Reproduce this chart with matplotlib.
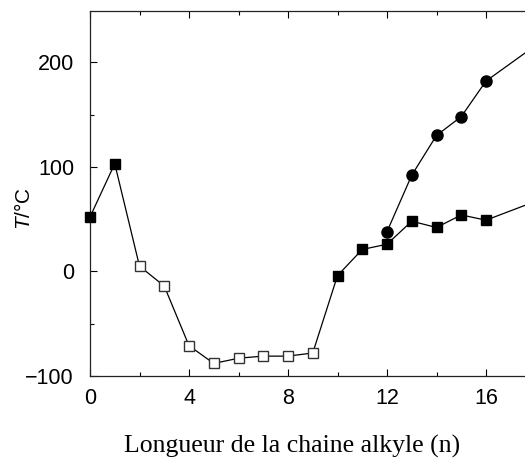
import numpy as np
import matplotlib
matplotlib.use("Agg")
import matplotlib.pyplot as plt
from matplotlib.ticker import MultipleLocator

plt.rcParams['font.family'] = 'Liberation Sans'
plt.rcParams['mathtext.fontset'] = 'custom'
plt.rcParams['mathtext.it'] = 'Liberation Sans:italic'
plt.rcParams['mathtext.rm'] = 'Liberation Sans'

# Square series (melting point vs chain length)
n_sq = [0, 1, 2, 3, 4, 5, 6, 7, 8, 9, 10, 11, 12, 13, 14, 15, 16, 18]
t_sq = [52, 103, 5, -14, -71, -88, -83, -81, -81, -78, -4, 21, 26, 48, 42, 54, 49, 67]
open_mask = [False, False, True, True, True, True, True, True, True, True,
             False, False, False, False, False, False, False, False]

# Circle series
n_ci = [12, 13, 14, 15, 16, 18]
t_ci = [38, 92, 130, 148, 182, 216]

fig = plt.figure(figsize=(5.25, 4.61), dpi=100)
W, H = 525, 461
x0, x1 = 90, 535.5
y0, y1 = 376, 11
ax = fig.add_axes([x0 / W, 1 - y0 / H, (x1 - x0) / W, (y0 - y1) / H])

ax.plot(n_sq, t_sq, color='black', lw=0.9, zorder=2)
ax.plot(n_ci, t_ci, color='black', lw=0.9, zorder=2)

n_sq = np.array(n_sq)
t_sq = np.array(t_sq)
open_mask = np.array(open_mask)
ax.plot(n_sq[~open_mask], t_sq[~open_mask], 's', ms=7.2, color='black',
        zorder=3, clip_on=False)
ax.plot(n_sq[open_mask], t_sq[open_mask], 's', ms=7.2, mfc='white', mec='#333333',
        mew=1.0, zorder=3)
ax.plot(n_ci, t_ci, 'o', ms=8, color='black', zorder=3)

ax.set_xlim(0, 18)
ax.set_ylim(-100, 249)
ax.xaxis.set_major_locator(MultipleLocator(4))
ax.xaxis.set_minor_locator(MultipleLocator(2))
ax.yaxis.set_major_locator(MultipleLocator(100))
ax.yaxis.set_minor_locator(MultipleLocator(50))
ax.tick_params(which='both', direction='in', top=True, right=True, labelsize=15.5)
ax.tick_params(axis='x', pad=9)
ax.tick_params(axis='y', pad=11.5)
ax.tick_params(which='major', length=5, width=0.8)
ax.tick_params(which='minor', length=3, width=0.8)
ax.set_xticks([0, 4, 8, 12, 16])
ax.set_yticks([-100, 0, 100, 200])
ax.set_yticklabels(['\u2212100', '0', '100', '200'])
for s in ax.spines.values():
    s.set_linewidth(0.9)
    s.set_color('#222222')

fig.text(24 / W, 1 - 208 / H, r'$T$/°C', rotation=90, fontsize=15,
         ha='center', va='center')
fig.text(292 / W, 1 - 446 / H, 'Longueur de la chaine alkyle (n)',
         family='Liberation Serif', fontsize=18.5, ha='center', va='center')

fig.savefig('out.png', dpi=100)
